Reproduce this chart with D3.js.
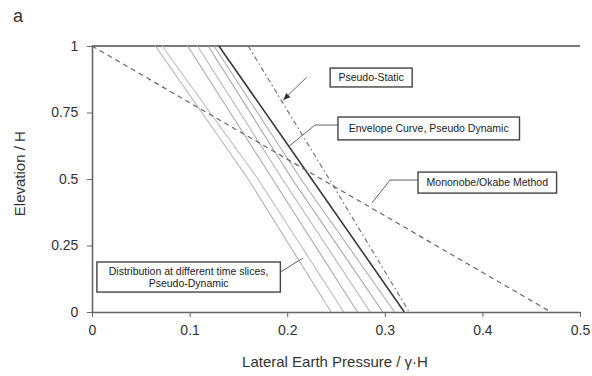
<!DOCTYPE html>
<html>
<head>
<meta charset="utf-8">
<script src="https://cdn.jsdelivr.net/npm/d3@7"></script>
<style>
  html, body { margin: 0; padding: 0; background: #fff; }
  svg { display: block; font-family: Arial, "Liberation Sans", sans-serif; }
</style>
</head>
<body>
<svg id="chart" width="592" height="376"></svg>
<script>
// Normalised elevation levels at which each distribution is sampled
const elevations = [1, 0.5, 0];

// Pseudo-dynamic pressure distributions at different time slices (p / γH at each elevation)
const timeSlice1 = [0.065, 0.160, 0.245];
const timeSlice2 = [0.072, 0.170, 0.258];
const timeSlice3 = [0.098, 0.185, 0.272];
const timeSlice4 = [0.108, 0.195, 0.285];
const timeSlice5 = [0.119, 0.205, 0.298];
const timeSlice6 = [0.125, 0.214, 0.310];

// Envelope of the pseudo-dynamic distributions
const envelope = [0.130, 0.225, 0.320];
// Pseudo-static distribution
const pseudoStatic = [0.160, 0.243, 0.325];
// Mononobe/Okabe static distribution
const mononobeOkabe = [0.000, 0.235, 0.470];

const xTicks = [0, 0.1, 0.2, 0.3, 0.4, 0.5];
const yTicks = [0, 0.25, 0.5, 0.75, 1];

const svg = d3.select("#chart");
const x = d3.scaleLinear().domain([0, 0.5]).range([92, 580]);
const y = d3.scaleLinear().domain([0, 1]).range([312, 46]);

const line = d3.line().x(d => x(d[0])).y(d => y(d[1]));
const toPts = vals => vals.map((v, i) => [v, elevations[i]]);

// Top boundary at Elevation / H = 1
svg.append("line")
  .attr("x1", x(0)).attr("x2", x(0.5))
  .attr("y1", y(1)).attr("y2", y(1))
  .attr("stroke", "#7a7a7a").attr("stroke-width", 2.2);

// Time-slice distributions
const slices = [timeSlice1, timeSlice2, timeSlice3, timeSlice4, timeSlice5, timeSlice6];
const sliceColors = ["#b4b4b4", "#bcbcbc", "#aaaaaa", "#b8b8b8", "#a4a4a4", "#acacac"];
slices.forEach((s, i) => {
  svg.append("path")
    .attr("d", line(toPts(s)))
    .attr("fill", "none")
    .attr("stroke", sliceColors[i])
    .attr("stroke-width", 1.1);
});

// Envelope curve
svg.append("path")
  .attr("d", line(toPts(envelope)))
  .attr("fill", "none").attr("stroke", "#3a3a3a").attr("stroke-width", 1.6);

// Pseudo-static (dash-dot)
svg.append("path")
  .attr("d", line(toPts(pseudoStatic)))
  .attr("fill", "none").attr("stroke", "#777").attr("stroke-width", 1.2)
  .attr("stroke-dasharray", "5,3,1.5,3");

// Mononobe/Okabe (dashed)
svg.append("path")
  .attr("d", line(toPts(mononobeOkabe)))
  .attr("fill", "none").attr("stroke", "#666").attr("stroke-width", 1.2)
  .attr("stroke-dasharray", "5,4");

// Axes
const xAxis = d3.axisBottom(x).tickValues(xTicks)
  .tickFormat(d => d === 0 ? "0" : d3.format(".1f")(d)).tickSize(5).tickSizeOuter(0);
const yAxis = d3.axisLeft(y).tickValues(yTicks)
  .tickFormat(d => String(d)).tickSize(5).tickSizeOuter(0);

const gx = svg.append("g").attr("transform", `translate(0,${y(0)})`).call(xAxis);
const gy = svg.append("g").attr("transform", `translate(${x(0)},0)`).call(yAxis);
[gx, gy].forEach(g => {
  g.select(".domain").attr("stroke", "#666").attr("stroke-width", 1.6);
  g.selectAll(".tick line").attr("stroke", "#666");
  g.selectAll(".tick text").attr("fill", "#333").attr("font-size", 14)
    .attr("font-family", "Arial, 'Liberation Sans', sans-serif");
});
gx.selectAll(".tick text").attr("dy", "1.1em");
gy.selectAll(".tick text").attr("dx", "-0.4em");

// Axis titles
svg.append("text")
  .attr("x", 335).attr("y", 367)
  .attr("text-anchor", "middle").attr("font-size", 15).attr("fill", "#333")
  .text("Lateral Earth Pressure / γ·H");
svg.append("text")
  .attr("transform", `translate(25,${y(0.52)}) rotate(-90)`)
  .attr("text-anchor", "middle").attr("font-size", 15).attr("fill", "#333")
  .text("Elevation / H");

// Panel letter
svg.append("text").attr("x", 13).attr("y", 22)
  .attr("font-size", 18).attr("fill", "#333").text("a");

// Annotations: boxes and leader lines, both in data coordinates
const annotations = [
  { lines: ["Pseudo-Static"], box: [0.244, 0.917, 0.328, 0.846],
    leader: [[0.220, 0.883], [0.196, 0.797]], arrow: true },
  { lines: ["Envelope Curve, Pseudo Dynamic"], box: [0.252, 0.733, 0.438, 0.647],
    leader: [[0.252, 0.703], [0.2285, 0.703], [0.2008, 0.620]] },
  { lines: ["Mononobe/Okabe Method"], box: [0.334, 0.526, 0.476, 0.447],
    leader: [[0.334, 0.496], [0.3053, 0.496], [0.2869, 0.410]] },
  { lines: ["Distribution at different time slices,", "Pseudo-Dynamic"], box: [0.005, 0.188, 0.193, 0.075],
    leader: [[0.193, 0.150], [0.2162, 0.203]] }
];

annotations.forEach(a => {
  svg.append("path")
    .attr("d", line(a.leader))
    .attr("fill", "none").attr("stroke", "#666").attr("stroke-width", 1);
  if (a.arrow) {
    const p1 = a.leader[a.leader.length - 2], p2 = a.leader[a.leader.length - 1];
    const ang = Math.atan2(y(p2[1]) - y(p1[1]), x(p2[0]) - x(p1[0])) * 180 / Math.PI;
    svg.append("path")
      .attr("d", "M0,0 L-7,-3 L-7,3 Z")
      .attr("fill", "#333")
      .attr("transform", `translate(${x(p2[0])},${y(p2[1])}) rotate(${ang})`);
  }
  const [x0, y0, x1, y1] = a.box;
  svg.append("rect")
    .attr("x", x(x0)).attr("y", y(y0))
    .attr("width", x(x1) - x(x0)).attr("height", y(y1) - y(y0))
    .attr("fill", "#fff").attr("stroke", "#444").attr("stroke-width", 1.4);
  const cx = (x(x0) + x(x1)) / 2;
  const h = y(y1) - y(y0);
  const lh = 12;
  const startY = y(y0) + h / 2 - (a.lines.length - 1) * lh / 2;
  a.lines.forEach((t, i) => {
    svg.append("text")
      .attr("x", cx).attr("y", startY + i * lh)
      .attr("dy", "0.35em")
      .attr("text-anchor", "middle").attr("font-size", 10.5).attr("fill", "#222")
      .text(t);
  });
});
</script>
</body>
</html>
